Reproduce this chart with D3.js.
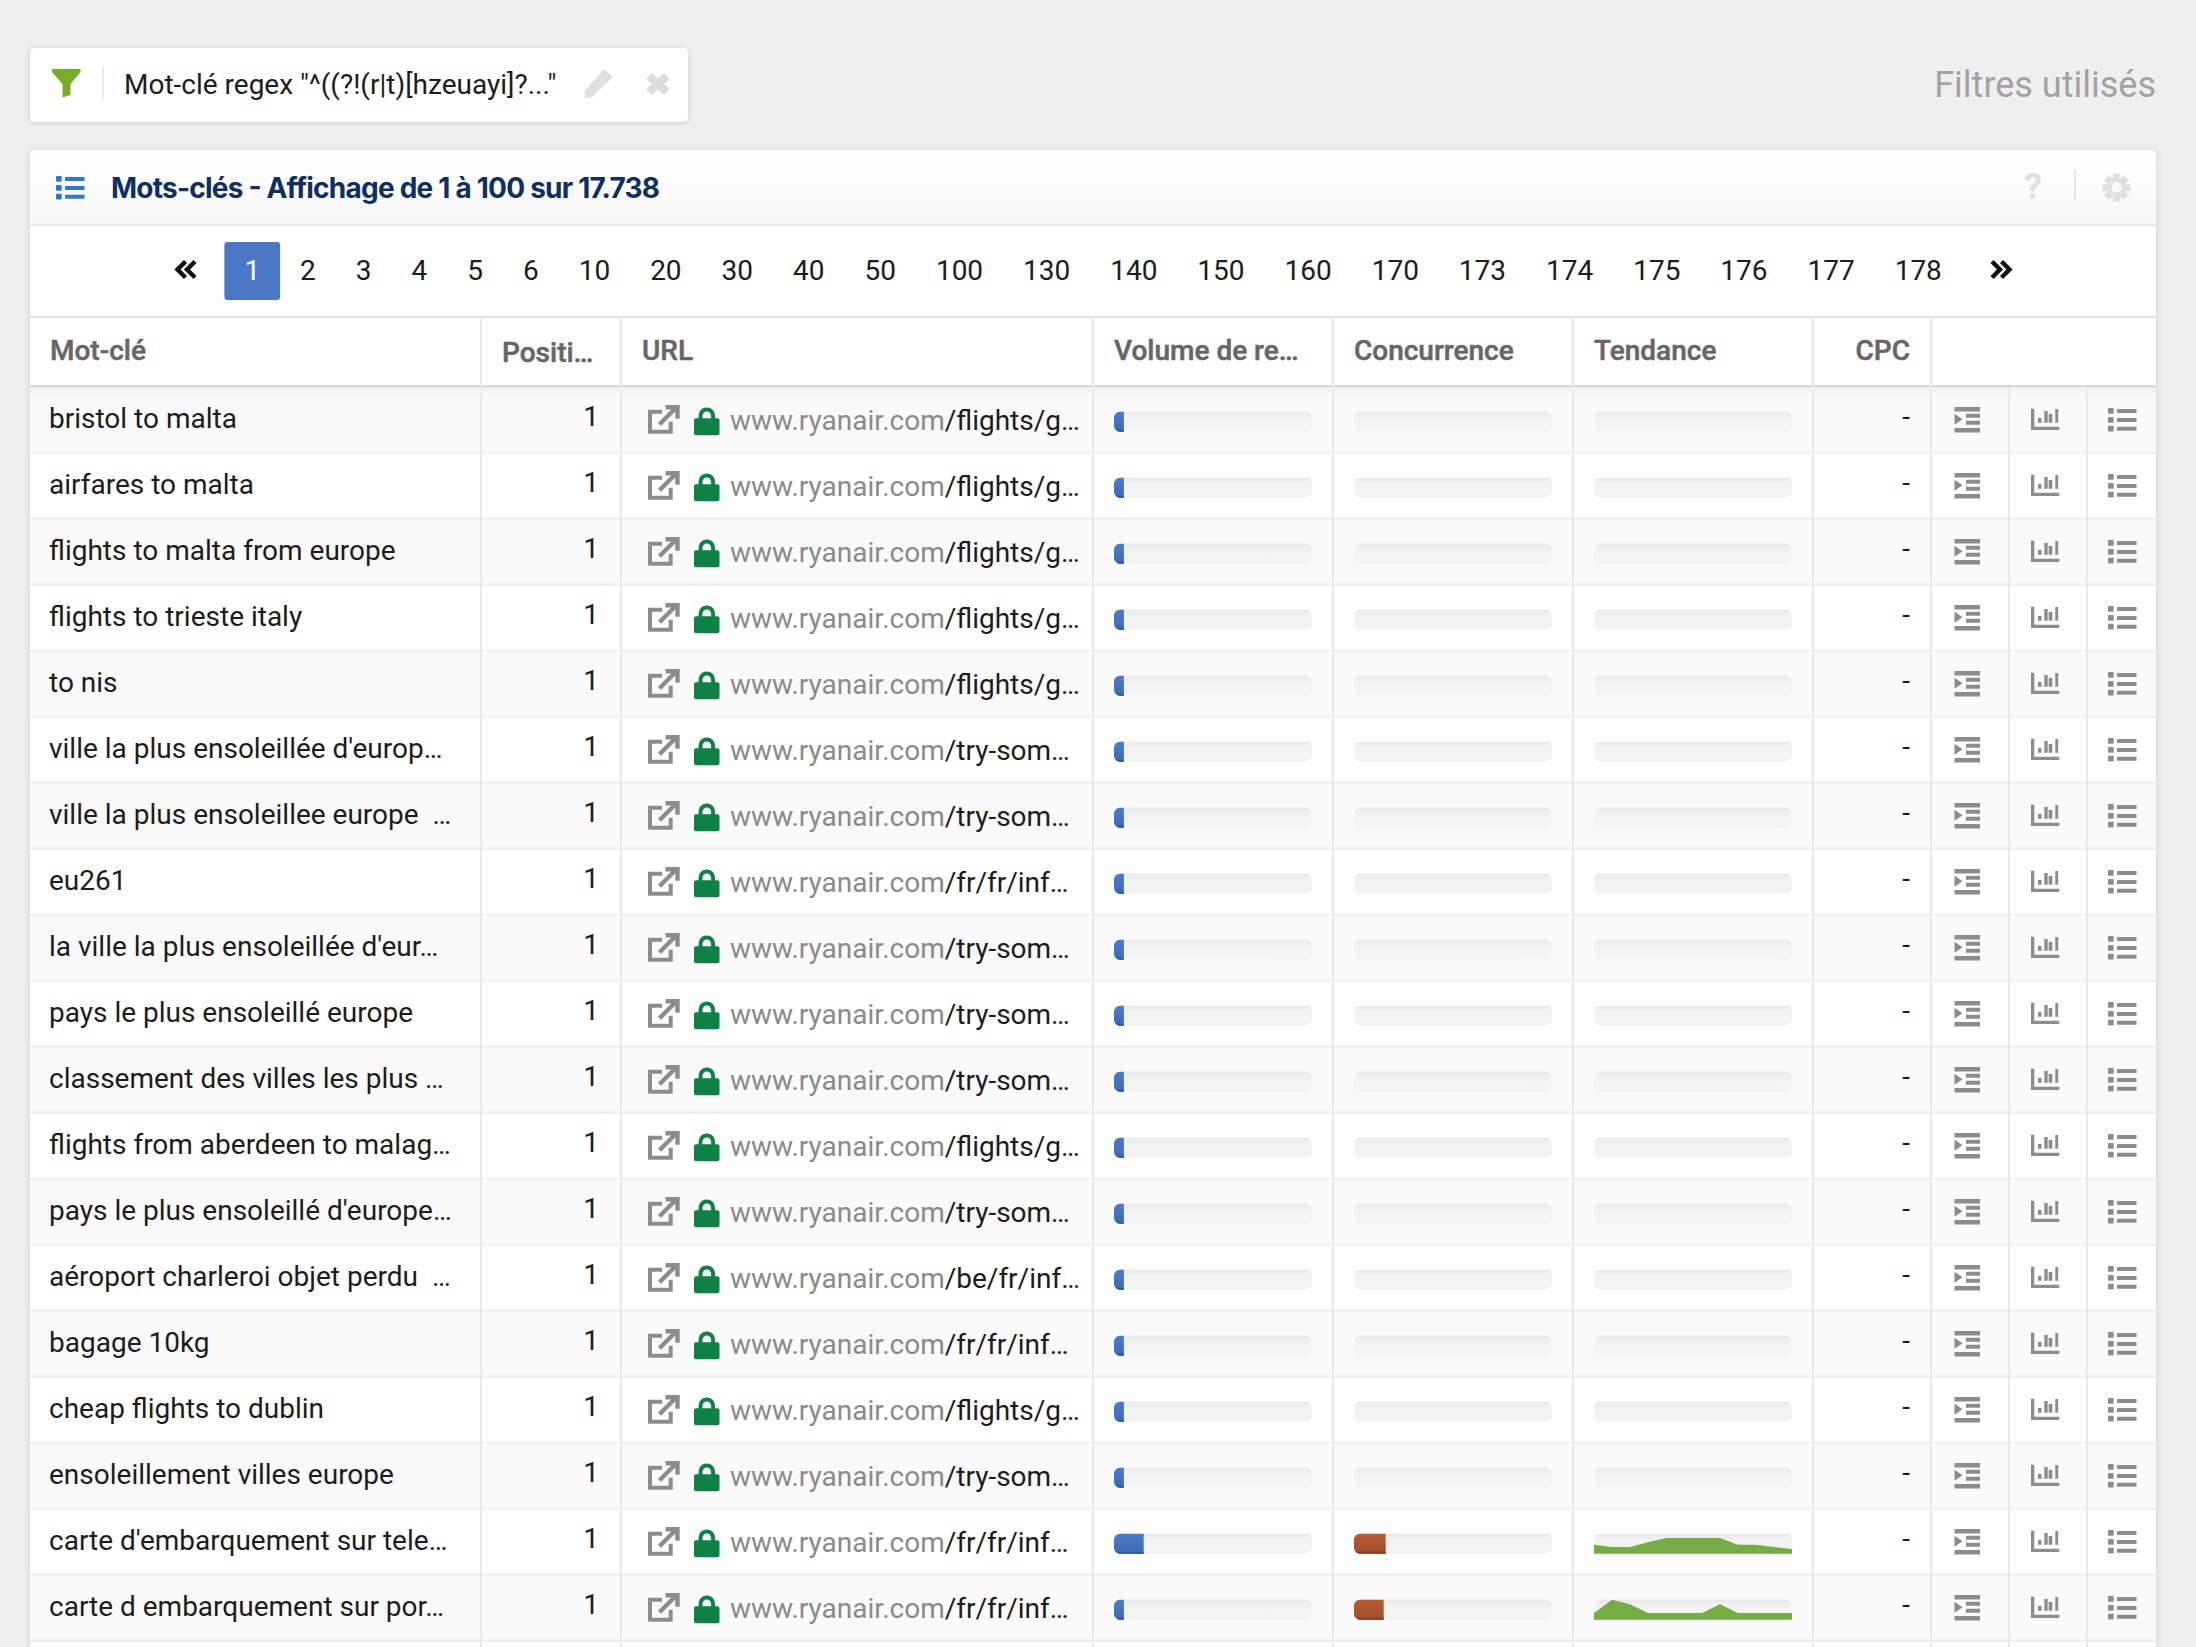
<!DOCTYPE html>
<html>
<head>
<meta charset="utf-8">
<script src="https://cdn.jsdelivr.net/npm/d3@7/dist/d3.min.js"></script>
<style>
	html, body { margin: 0; padding: 0; background: #efefef; overflow: hidden; }
	svg { display: block; font-family: Roboto, sans-serif; }
	text { white-space: pre; }
</style>
</head>
<body>
<svg id="chart" width="2196" height="1647"></svg>
<script>
// values
var keywords = ["bristol to malta", "airfares to malta", "flights to malta from europe", "flights to trieste italy", "to nis",
	"ville la plus ensoleillée d'europ…", "ville la plus ensoleillee europe  …", "eu261", "la ville la plus ensoleillée d'eur…",
	"pays le plus ensoleillé europe", "classement des villes les plus …", "flights from aberdeen to malag…",
	"pays le plus ensoleillé d'europe…", "aéroport charleroi objet perdu  …", "bagage 10kg", "cheap flights to dublin",
	"ensoleillement villes europe", "carte d'embarquement sur tele…", "carte d embarquement sur por…"];
var positions = [1, 1, 1, 1, 1, 1, 1, 1, 1, 1, 1, 1, 1, 1, 1, 1, 1, 1, 1];
var urlPaths = ["/flights/g…", "/flights/g…", "/flights/g…", "/flights/g…", "/flights/g…", "/try-som…", "/try-som…", "/fr/fr/inf…",
	"/try-som…", "/try-som…", "/try-som…", "/flights/g…", "/try-som…", "/be/fr/inf…", "/fr/fr/inf…", "/flights/g…", "/try-som…",
	"/fr/fr/inf…", "/fr/fr/inf…"];
var volumes = [5, 5, 5, 5, 5, 5, 5, 5, 5, 5, 5, 5, 5, 5, 5, 5, 5, 15, 5];
var competition = [0, 0, 0, 0, 0, 0, 0, 0, 0, 0, 0, 0, 0, 0, 0, 0, 0, 16, 15];
var trends = { 17: [45, 33, 33, 57, 78, 78, 78, 78, 45, 45, 33, 23], 18: [33, 100, 77, 33, 33, 33, 33, 77, 33, 33, 33, 33] };
var pages = ["1", "2", "3", "4", "5", "6", "10", "20", "30", "40", "50", "100", "130", "140", "150", "160", "170", "173", "174", "175", "176", "177", "178"];
var headers = [
	{ label: "Mot-clé", x: 50 },
	{ label: "Positi…", x: 502 },
	{ label: "URL", x: 642 },
	{ label: "Volume de re…", x: 1114 },
	{ label: "Concurrence", x: 1354 },
	{ label: "Tendance", x: 1594 },
	{ label: "CPC", x: 1910, anchor: "end" }
];
var columnLines = [481, 621, 1093, 1333, 1573, 1813, 1931];
var actionLines = [2009, 2087];

var svg = d3.select("#chart");
var defs = svg.append("defs");
function gradient(id, stops) {
	var g = defs.append("linearGradient").attr("id", id).attr("x1", 0).attr("x2", 0).attr("y1", 0).attr("y2", 1);
	stops.forEach(function(s) {
		g.append("stop").attr("offset", s[0]).attr("stop-color", s[1]);
	});
}
gradient("titleBar", [["0%", "#ffffff"], ["100%", "#f8f8f8"]]);
gradient("blueBar", [["0%", "#4a7cca"], ["100%", "#3b69b6"]]);
gradient("redBar", [["0%", "#bc5b34"], ["100%", "#a04d2b"]]);
gradient("trackGrad", [["0%", "#e8e8e8"], ["30%", "#f2f2f2"], ["100%", "#f4f4f4"]]);
gradient("rowShade", [["0%", "#f2f2f2"], ["100%", "#fafafa"]]);
var blur = defs.append("filter").attr("id", "cardShadow").attr("x", "-5%").attr("y", "-5%").attr("width", "110%").attr("height", "110%");
blur.append("feDropShadow").attr("dx", 0).attr("dy", 1).attr("stdDeviation", 3).attr("flood-color", "#000").attr("flood-opacity", 0.14);

var rowTop = 386.7, rowHeight = 66;
var rowY = d3.scaleLinear().domain([0, 1]).range([rowTop, rowTop + rowHeight]);
var barWidth = 198, barHeight = 20;
var barScale = d3.scaleLinear().domain([0, 100]).range([0, barWidth]);

// filter card
svg.append("rect").attr("x", 30).attr("y", 48).attr("width", 658).attr("height", 74).attr("rx", 5)
	.attr("fill", "#fff").attr("filter", "url(#cardShadow)");
svg.append("path").attr("fill", "#76ad27")
	.attr("d", "M52 69H80.5V72L70.500 84V95L62.500 97.500V84L52 72Z");
svg.append("line").attr("x1", 103).attr("x2", 103).attr("y1", 67).attr("y2", 100).attr("stroke", "#ededed").attr("stroke-width", 2);
svg.append("text").attr("x", 124).attr("y", 93.5).attr("font-size", 28).attr("fill", "#1c1c1c").text('Mot-clé regex "^((?!(r|t)[hzeuayi]?..."');
svg.append("path").attr("fill", "#dfdfdf")
	.attr("d", "M604 69.5L613 76.5L592 97L585 98L584.5 91Z");
svg.append("path").attr("stroke", "#dcdcdc").attr("stroke-width", 8).attr("fill", "none")
	.attr("d", "M649 76L667 92M667 76L649 92");
svg.append("text").attr("x", 2156).attr("y", 97).attr("text-anchor", "end").attr("font-size", 36).attr("fill", "#a2a2a2").text("Filtres utilisés");

// main panel
svg.append("rect").attr("x", 30).attr("y", 150).attr("width", 2126).attr("height", 1600).attr("rx", 5)
	.attr("fill", "#fff").attr("filter", "url(#cardShadow)");
svg.append("path").attr("fill", "url(#titleBar)")
	.attr("d", "M30 155a5 5 0 0 1 5 -5H2151a5 5 0 0 1 5 5V224H30Z");
svg.append("rect").attr("x", 30).attr("y", 224).attr("width", 2126).attr("height", 2).attr("fill", "#e9e9e9");

function listIcon(g, color) {
	// bullets + bars, 28x23 box
	[0, 9, 17.7].forEach(function(dy) {
		g.append("rect").attr("x", 0).attr("y", dy).attr("width", 5.7).attr("height", 5.7).attr("rx", 1).attr("fill", color);
		g.append("rect").attr("x", 9).attr("y", dy + 1).attr("width", 19.5).attr("height", 4).attr("rx", 0.5).attr("fill", color);
	});
}
listIcon(svg.append("g").attr("transform", "translate(56,176)"), "#2f76d8");
svg.append("text").attr("x", 111).attr("y", 198).attr("font-family", "Inter").attr("font-size", 28).attr("font-weight", 700).attr("fill", "#0d2f63")
	.attr("textLength", 549).attr("lengthAdjust", "spacing").text("Mots-clés - Affichage de 1 à 100 sur 17.738");
svg.append("text").attr("x", 2033).attr("y", 199).attr("text-anchor", "middle").attr("font-size", 36).attr("font-weight", 700).attr("fill", "#e0e0e0").text("?");
svg.append("line").attr("x1", 2075).attr("x2", 2075).attr("y1", 170).attr("y2", 200).attr("stroke", "#e6e6e6").attr("stroke-width", 2);
var gear = svg.append("g").attr("transform", "translate(2116.5,187.5)");
d3.range(0, 360, 45).forEach(function(a) {
	gear.append("rect").attr("x", -3.5).attr("y", -14).attr("width", 7).attr("height", 7).attr("fill", "#e0e0e0").attr("transform", "rotate(" + a + ")");
});
gear.append("circle").attr("r", 7.5).attr("fill", "none").attr("stroke", "#e0e0e0").attr("stroke-width", 5);

// pagination
function chevrons(cx, dir) {
	svg.append("path").attr("fill", "none").attr("stroke", "#111").attr("stroke-width", 4.4)
		.attr("d", [-11, -1.500].map(function(o) {
			var x = cx + o * dir;
			return "M" + x + " 261.5L" + (x + 8 * dir) + " 269.5L" + x + " 277.5";
		}).join(""));
}
chevrons(184, -1);
var pageX = 224.4;
var pageItems = pages.map(function(p) {
	var w = 40 + 15.72 * p.length, item = { label: p, x: pageX, w: w };
	pageX += w;
	return item;
});
svg.append("rect").attr("x", pageItems[0].x).attr("y", 242).attr("width", pageItems[0].w).attr("height", 58).attr("rx", 3).attr("fill", "#4a78c6");
svg.append("g").selectAll("text").data(pageItems).join("text")
	.attr("x", function(d) { return d.x + d.w / 2; })
	.attr("y", 279.5)
	.attr("text-anchor", "middle")
	.attr("font-size", 28)
	.attr("fill", function(d, i) { return i == 0 ? "#fff" : "#1c1c1c"; })
	.text(function(d) { return d.label; });
chevrons(2003, 1);

// table header
svg.append("rect").attr("x", 30).attr("y", 316).attr("width", 2126).attr("height", 2).attr("fill", "#e2e2e2");
svg.append("rect").attr("x", 30).attr("y", 385).attr("width", 2126).attr("height", 3).attr("fill", "#d9d9d9");
svg.append("g").selectAll("text").data(headers).join("text")
	.attr("x", function(d) { return d.x; })
	.attr("y", function(d, i) { return i == 1 ? 362 : 360; })
	.attr("text-anchor", function(d) { return d.anchor || "start"; })
	.attr("font-size", 28).attr("font-weight", 500).attr("fill", "#666666")
	.attr("stroke", "#666666").attr("stroke-width", 0.5)
	.text(function(d) { return d.label; });

// rows
var rows = svg.append("g").selectAll("g").data(keywords).join("g")
	.attr("transform", function(d, i) { return "translate(0," + rowY(i) + ")"; });
rows.append("rect").attr("x", 30).attr("y", 1).attr("width", 2126).attr("height", rowHeight - 1)
	.attr("fill", function(d, i) { return i % 2 ? "#fff" : "#fafafa"; });
rows.filter(function(d, i) { return i == 0; }).append("rect")
	.attr("x", 30).attr("y", 1).attr("width", 2126).attr("height", 12).attr("fill", "url(#rowShade)");
rows.append("rect").attr("x", 30).attr("y", rowHeight - 1).attr("width", 2126).attr("height", 2).attr("fill", "#eeeeee");

rows.append("text").attr("x", 49).attr("y", 41).attr("font-size", 28).attr("fill", "#1c1c1c").text(function(d) { return d; });
rows.append("text").attr("x", 599).attr("y", 39).attr("text-anchor", "end").attr("font-size", 28).attr("fill", "#1c1c1c")
	.text(function(d, i) { return positions[i]; });
var urlText = rows.append("text").attr("x", 730).attr("y", 43).attr("font-size", 28);
urlText.append("tspan").attr("fill", "#8a8a8a").text("www.ryanair.com");
urlText.append("tspan").attr("fill", "#1c1c1c").text(function(d, i) { return urlPaths[i]; });
rows.append("text").attr("x", 1910).attr("y", 39).attr("text-anchor", "end").attr("font-size", 28).attr("fill", "#1c1c1c").text("-");

// external link + lock icons
rows.append("path").attr("fill", "none").attr("stroke", "#8c8c8c").attr("stroke-width", 4)
	.attr("d", "M662 25H650V45H670.700V35");
rows.append("path").attr("fill", "none").attr("stroke", "#8c8c8c").attr("stroke-width", 4.4)
	.attr("d", "M659.500 37.500L676 21M665.500 20.500H677.500V32");
rows.append("path").attr("fill", "#0e8244")
	.attr("d", "M694 33.500a2 2 0 0 1 2 -2H717.500a2 2 0 0 1 2 2V46.500a2 2 0 0 1 -2 2H696a2 2 0 0 1 -2 -2Z");
rows.append("path").attr("fill", "none").attr("stroke", "#0e8244").attr("stroke-width", 4)
	.attr("d", "M700.500 33V29a6.300 6.300 0 0 1 12.600 0V33");

// progress tracks and fills
function track(g, x, fill, strip) {
	g.append("rect").attr("x", x).attr("y", 25).attr("width", barWidth).attr("height", barHeight).attr("rx", 6).attr("fill", "url(#trackGrad)");
	var bars = g.filter(function(d) { return d.v > 0; });
	bars.append("path").attr("fill", fill)
		.attr("d", function(d) {
			var w = barScale(d.v);
			return "M" + (x + w) + " 25H" + (x + 6) + "a6 6 0 0 0 -6 6V39a6 6 0 0 0 6 6H" + (x + w) + "Z";
		});
	bars.append("path").attr("fill", strip)
		.attr("d", function(d) {
			var w = barScale(d.v);
			return "M" + (x + w) + " 43V45H" + (x + 6) + "a6 6 0 0 1 -4.200 -2Z";
		});
}
var volGroup = rows.append("g").datum(function(d, i) { return { v: volumes[i] }; });
track(volGroup, 1114, "url(#blueBar)", "#2f5a9f");
var compGroup = rows.append("g").datum(function(d, i) { return { v: competition[i] }; });
track(compGroup, 1354, "url(#redBar)", "#8b3f24");

// trend sparklines
var sparkX = d3.scaleLinear().domain([0, 11]).range([1594, 1594 + barWidth]);
var sparkY = d3.scaleLinear().domain([0, 100]).range([25 + barHeight, 25]);
var sparkArea = d3.area().x(function(d, i) { return sparkX(i); }).y0(sparkY(0)).y1(function(d) { return sparkY(d); });
rows.each(function(d, i) {
	var g = d3.select(this);
	g.append("rect").attr("x", 1594).attr("y", 25).attr("width", barWidth).attr("height", barHeight).attr("rx", 6).attr("fill", "url(#trackGrad)");
	if (trends[i]) g.append("path").datum(trends[i]).attr("d", sparkArea).attr("fill", "#76ad43");
});

// action icons
var iconColor = "#8c8c8c";
rows.append("path").attr("fill", iconColor)
	.attr("d", "M1954.500 20.300h25.500v4.500h-25.500ZM1966 27h14v4h-14ZM1966 34h14v4h-14ZM1954.500 41.300h25.500v4.500h-25.500ZM1954.500 27L1962.500 32.500L1954.500 38Z");
rows.append("path").attr("fill", iconColor)
	.attr("d", "M2031 22h3.300V40h25v3.300h-28.300ZM2038 31.300h3.500v4.700h-3.500ZM2044.300 24.300h3.400v11.700h-3.400ZM2048.700 27.300h3.600v8.700h-3.600ZM2055.300 22.300h2.900v13.700h-2.900Z");
rows.each(function() {
	listIcon(d3.select(this).append("g").attr("transform", "translate(2108,21.3)"), iconColor);
});

// column dividers over header and rows
var lines = svg.append("g").attr("stroke", "#e9e9e9").attr("stroke-width", 2);
lines.selectAll("line.col").data(columnLines).join("line").attr("class", "col")
	.attr("x1", function(d) { return d; }).attr("x2", function(d) { return d; }).attr("y1", 317).attr("y2", 1647);
lines.selectAll("line.act").data(actionLines).join("line").attr("class", "act")
	.attr("x1", function(d) { return d; }).attr("x2", function(d) { return d; }).attr("y1", 388).attr("y2", 1647);
</script>
</body>
</html>
